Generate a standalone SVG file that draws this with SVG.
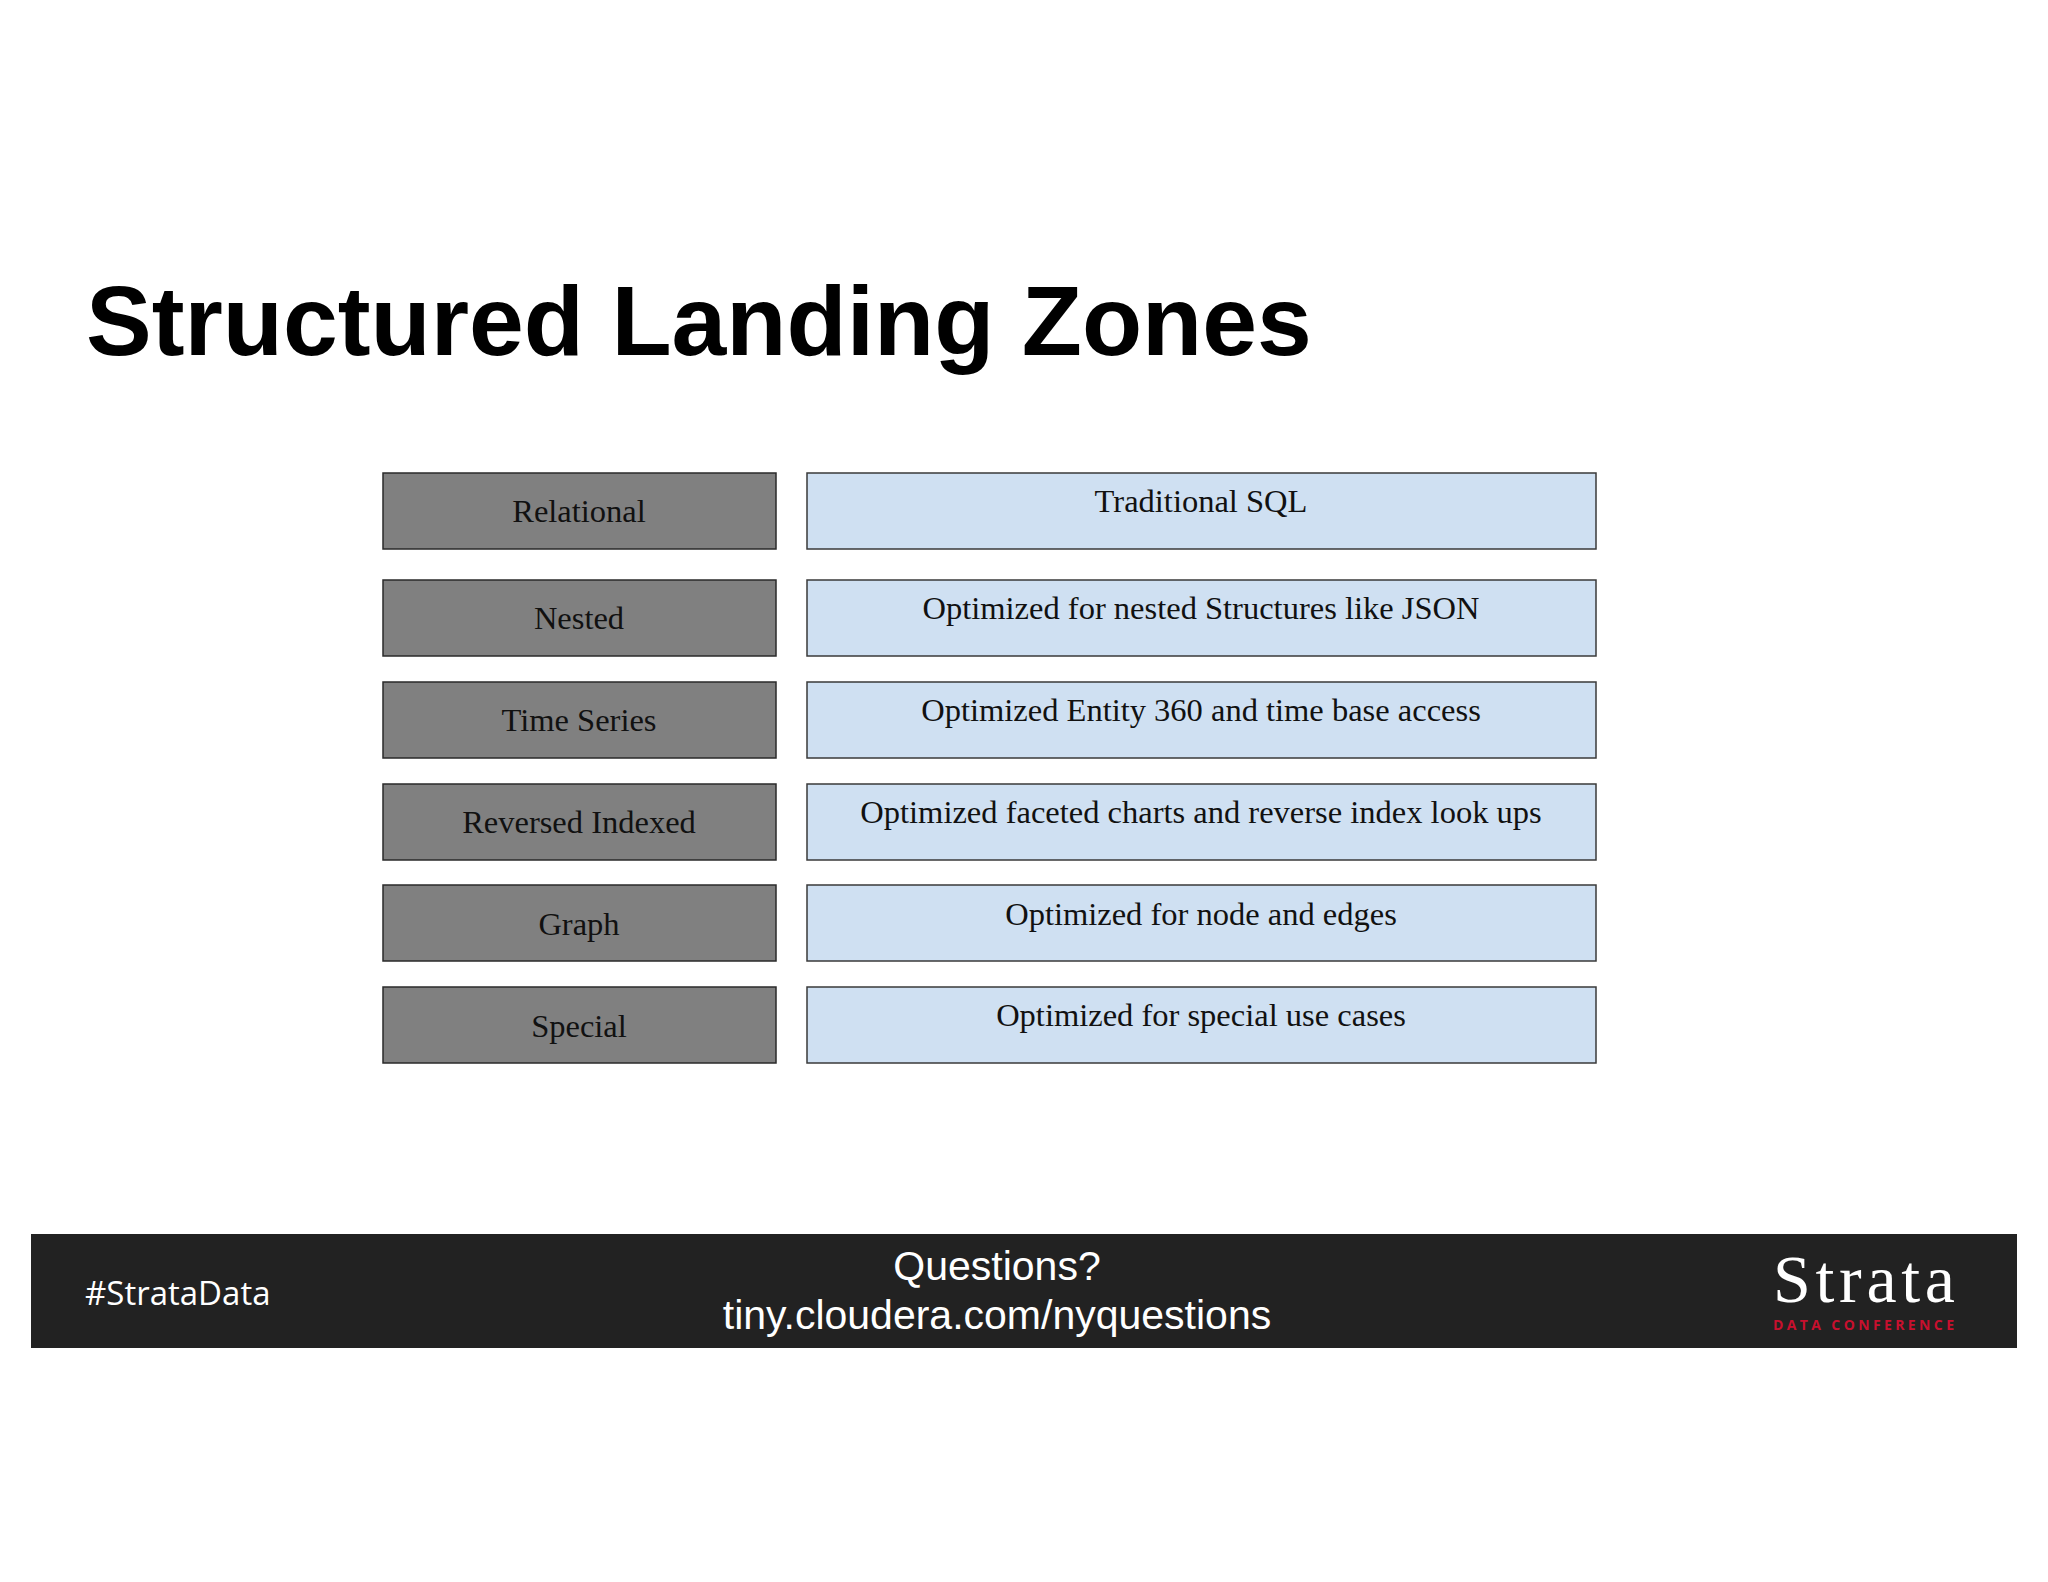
<svg xmlns="http://www.w3.org/2000/svg" width="2048" height="1582" viewBox="0 0 2048 1582">
<style>
.k rect{fill:#808080;stroke:#2a2a2a;stroke-width:1.5}
.v rect{fill:#cfe0f2;stroke:#3a3a3a;stroke-width:1.5}
.t{font-family:"Liberation Serif",serif;font-size:32.5px;fill:#111;text-anchor:middle}
</style>
<rect width="2048" height="1582" fill="#fff"/>
<text x="86" y="355" font-family="Liberation Sans,Arial,sans-serif" font-weight="bold" font-size="98.5" fill="#000">Structured Landing Zones</text>
<g id="relational" class="k"><rect x="383" y="473" width="393" height="76"/><text class="t" x="579" y="522">Relational</text></g>
<g id="relational-d" class="v"><rect x="807" y="473" width="789" height="76"/><text class="t" x="1201" y="512">Traditional SQL</text></g>
<g id="nested" class="k"><rect x="383" y="580" width="393" height="76"/><text class="t" x="579" y="629">Nested</text></g>
<g id="nested-d" class="v"><rect x="807" y="580" width="789" height="76"/><text class="t" x="1201" y="619">Optimized for nested Structures like JSON</text></g>
<g id="timeseries" class="k"><rect x="383" y="682" width="393" height="76"/><text class="t" x="579" y="731">Time Series</text></g>
<g id="timeseries-d" class="v"><rect x="807" y="682" width="789" height="76"/><text class="t" x="1201" y="721">Optimized Entity 360 and time base access</text></g>
<g id="reversed" class="k"><rect x="383" y="784" width="393" height="76"/><text class="t" x="579" y="833">Reversed Indexed</text></g>
<g id="reversed-d" class="v"><rect x="807" y="784" width="789" height="76"/><text class="t" x="1201" y="823">Optimized faceted charts and reverse index look ups</text></g>
<g id="graph" class="k"><rect x="383" y="885" width="393" height="76"/><text class="t" x="579" y="935">Graph</text></g>
<g id="graph-d" class="v"><rect x="807" y="885" width="789" height="76"/><text class="t" x="1201" y="925">Optimized for node and edges</text></g>
<g id="special" class="k"><rect x="383" y="987" width="393" height="76"/><text class="t" x="579" y="1037">Special</text></g>
<g id="special-d" class="v"><rect x="807" y="987" width="789" height="76"/><text class="t" x="1201" y="1026">Optimized for special use cases</text></g>
<g id="connectors"></g>
<g id="footer">
<rect x="31" y="1234" width="1986" height="114" fill="#222"/>
<text x="85" y="1305" font-family="Open Sans,sans-serif" font-size="33" fill="#fff">#StrataData</text>
<text x="997" y="1280" font-family="Liberation Sans,Arial,sans-serif" font-size="41" fill="#fff" text-anchor="middle">Questions?</text>
<text x="997" y="1329" font-family="Liberation Sans,Arial,sans-serif" font-size="41" fill="#fff" text-anchor="middle">tiny.cloudera.com/nyquestions</text>
<text x="1864" y="1302" font-family="Liberation Serif,serif" font-size="68" fill="#fff" text-anchor="middle" textLength="182">Strata</text>
<text x="1864" y="1330" font-family="Open Sans,sans-serif" font-weight="bold" font-size="14" fill="#c8102e" text-anchor="middle" textLength="182" letter-spacing="1">DATA CONFERENCE</text>
</g>
</svg>
